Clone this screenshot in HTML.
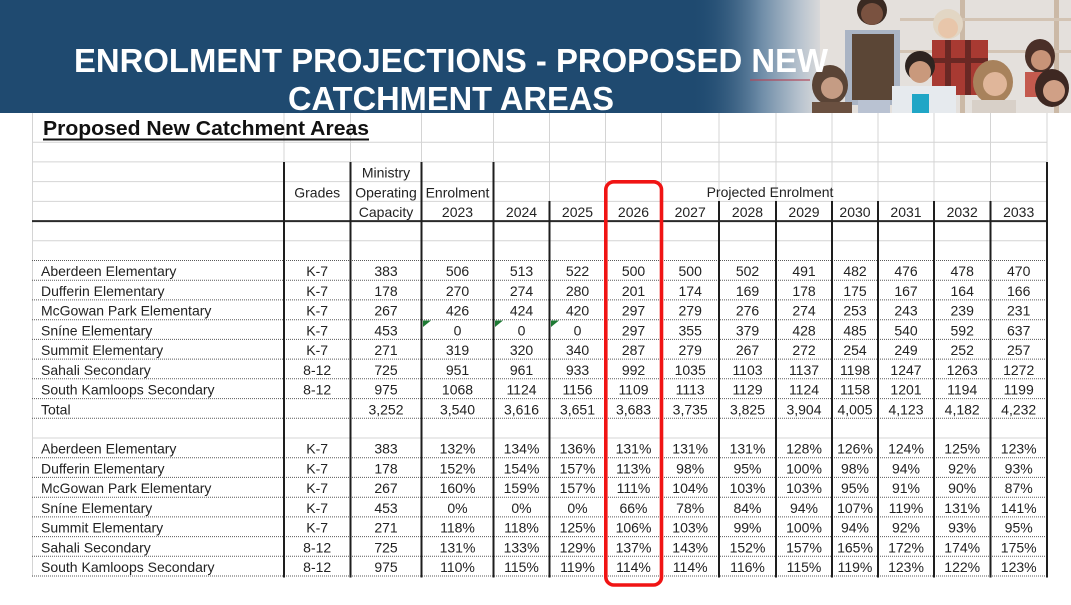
<!DOCTYPE html>
<html><head><meta charset="utf-8"><style>
html,body{margin:0;padding:0;background:#fff;}
svg{display:block;}
text{font-family:"Liberation Sans",Arial,sans-serif;}
</style></head><body>
<svg width="1071" height="605" viewBox="0 0 1071 605" xmlns="http://www.w3.org/2000/svg">
<defs>
<linearGradient id="fade" x1="0" y1="0" x2="1" y2="0">
<stop offset="0" stop-color="#1f4a70" stop-opacity="0"/>
<stop offset="0.55" stop-color="#6f8da8"/>
<stop offset="0.85" stop-color="#b9c4cf"/>
<stop offset="1" stop-color="#d9d9da"/>
</linearGradient>
</defs>
<rect x="0" y="0" width="1071" height="605" fill="#fff"/>
<!-- header band -->
<rect x="0" y="0" width="1071" height="113" fill="#1f4a70"/>
<!-- photo -->
<rect x="812" y="0" width="259" height="113" fill="#e4e0dc"/>
<rect x="690" y="0" width="130" height="113" fill="url(#fade)"/>
<rect x="750" y="79" width="60" height="2" fill="#b0485a" opacity="0.6"/>
<rect x="960" y="0" width="5" height="113" fill="#cbb9a6"/>
<rect x="1054" y="0" width="5" height="113" fill="#cbb9a6"/>
<rect x="900" y="18" width="171" height="3" fill="#d3c4b4"/>
<rect x="900" y="50" width="171" height="3" fill="#d3c4b4"/>
<!-- kid standing with vest -->
<rect x="845" y="30" width="55" height="75" fill="#aab4c4"/>
<rect x="852" y="34" width="42" height="66" fill="#5b4636"/>
<rect x="858" y="100" width="32" height="13" fill="#b9c2d2"/>
<circle cx="872" cy="10" r="15" fill="#3a2a22"/>
<circle cx="872" cy="14" r="11" fill="#7a5240"/>
<!-- girl bottom left -->
<ellipse cx="830" cy="85" rx="18" ry="20" fill="#5a4436"/>
<circle cx="832" cy="88" r="11" fill="#c59c84"/>
<rect x="812" y="102" width="40" height="11" fill="#6a5040"/>
<!-- blond kid plaid -->
<circle cx="948" cy="24" r="15" fill="#e2d6c4"/>
<circle cx="948" cy="28" r="10" fill="#e8c6aa"/>
<rect x="932" y="40" width="56" height="55" fill="#a83a32"/>
<rect x="945" y="40" width="6" height="55" fill="#6a2824"/>
<rect x="965" y="40" width="6" height="55" fill="#6a2824"/>
<rect x="932" y="58" width="56" height="5" fill="#6a2824"/>
<!-- boy center white shirt -->
<circle cx="920" cy="66" r="15" fill="#2e2420"/>
<circle cx="920" cy="72" r="11" fill="#c9997c"/>
<rect x="892" y="86" width="64" height="27" fill="#e6eaee"/>
<rect x="912" y="94" width="17" height="19" fill="#20a6c6"/>
<!-- curly girl -->
<ellipse cx="993" cy="82" rx="20" ry="22" fill="#a8825c"/>
<circle cx="995" cy="84" r="12" fill="#e0b69a"/>
<rect x="972" y="100" width="44" height="13" fill="#d8d0c8"/>
<!-- right girls -->
<ellipse cx="1040" cy="56" rx="15" ry="17" fill="#4a3028"/>
<circle cx="1041" cy="60" r="10" fill="#c89478"/>
<rect x="1025" y="72" width="35" height="25" fill="#c45a4e"/>
<ellipse cx="1052" cy="88" rx="17" ry="19" fill="#3e2822"/>
<circle cx="1054" cy="91" r="11" fill="#d0a086"/>
<!-- title -->
<text x="451" y="72" fill="#fff" font-size="33" font-weight="bold" text-anchor="middle" textLength="754" lengthAdjust="spacingAndGlyphs">ENROLMENT PROJECTIONS - PROPOSED NEW</text>
<text x="451" y="110" fill="#fff" font-size="33" font-weight="bold" text-anchor="middle" textLength="326" lengthAdjust="spacingAndGlyphs">CATCHMENT AREAS</text>

<!-- light gridlines -->
<g stroke="#d4d4d4" stroke-width="1">
<line x1="32" y1="142.2" x2="1047" y2="142.2"/>
<line x1="32" y1="161.9" x2="1047" y2="161.9"/>
<line x1="32" y1="181.6" x2="1047" y2="181.6"/>
<line x1="32" y1="201.4" x2="1047" y2="201.4"/>
<line x1="32" y1="240.8" x2="1047" y2="240.8"/>
<line x1="32" y1="438" x2="1047" y2="438"/>
<line x1="32.5" y1="113" x2="32.5" y2="577"/>
<line x1="284" y1="113" x2="284" y2="162"/>
<line x1="350.5" y1="113" x2="350.5" y2="162"/>
<line x1="421.5" y1="113" x2="421.5" y2="162"/>
<line x1="493.5" y1="113" x2="493.5" y2="162"/>
<line x1="549.5" y1="113" x2="549.5" y2="201"/>
<line x1="605.5" y1="113" x2="605.5" y2="201"/>
<line x1="661.5" y1="113" x2="661.5" y2="201"/>
<line x1="719" y1="113" x2="719" y2="201"/>
<line x1="776" y1="113" x2="776" y2="201"/>
<line x1="832" y1="113" x2="832" y2="201"/>
<line x1="878" y1="113" x2="878" y2="201"/>
<line x1="934" y1="113" x2="934" y2="201"/>
<line x1="990.5" y1="113" x2="990.5" y2="201"/>
<line x1="1047" y1="113" x2="1047" y2="162"/>
</g>
<!-- dotted row lines -->
<g stroke="#5a5a5a" stroke-width="1" stroke-dasharray="1 1">
<line x1="32" y1="260.5" x2="1047" y2="260.5"/>
<line x1="32" y1="280.2" x2="1047" y2="280.2"/>
<line x1="32" y1="299.9" x2="1047" y2="299.9"/>
<line x1="32" y1="319.7" x2="1047" y2="319.7"/>
<line x1="32" y1="339.4" x2="1047" y2="339.4"/>
<line x1="32" y1="359.1" x2="1047" y2="359.1"/>
<line x1="32" y1="378.8" x2="1047" y2="378.8"/>
<line x1="32" y1="398.6" x2="1047" y2="398.6"/>
<line x1="32" y1="418.3" x2="1047" y2="418.3"/>
<line x1="32" y1="457.7" x2="1047" y2="457.7"/>
<line x1="32" y1="477.4" x2="1047" y2="477.4"/>
<line x1="32" y1="497.2" x2="1047" y2="497.2"/>
<line x1="32" y1="516.9" x2="1047" y2="516.9"/>
<line x1="32" y1="536.6" x2="1047" y2="536.6"/>
<line x1="32" y1="556.3" x2="1047" y2="556.3"/>
<line x1="32" y1="576" x2="1047" y2="576"/>
</g>
<!-- black lines -->
<line x1="32" y1="221.1" x2="1048" y2="221.1" stroke="#2a2a2a" stroke-width="2"/>
<g stroke="#1e1e1e" stroke-width="2">
<line x1="284" y1="162" x2="284" y2="577.5"/>
<line x1="350.5" y1="162" x2="350.5" y2="577.5"/>
<line x1="421.5" y1="162" x2="421.5" y2="577.5"/>
<line x1="493.5" y1="162" x2="493.5" y2="577.5"/>
<line x1="549.5" y1="201" x2="549.5" y2="577.5"/>
<line x1="605.5" y1="201" x2="605.5" y2="577.5"/>
<line x1="661.5" y1="201" x2="661.5" y2="577.5"/>
<line x1="719" y1="201" x2="719" y2="577.5"/>
<line x1="776" y1="201" x2="776" y2="577.5"/>
<line x1="832" y1="201" x2="832" y2="577.5"/>
<line x1="878" y1="201" x2="878" y2="577.5"/>
<line x1="934" y1="201" x2="934" y2="577.5"/>
<line x1="990.5" y1="201" x2="990.5" y2="577.5"/>
<line x1="1047" y1="162" x2="1047" y2="577.5"/>
</g>
<!-- green error triangles -->
<g fill="#1d7a33">
<polygon points="423,320.5 431,320.5 423,327"/>
<polygon points="495,320.5 503,320.5 495,327"/>
<polygon points="551,320.5 559,320.5 551,327"/>
</g>

<!-- sheet title -->
<text x="43" y="135" font-size="20.5" font-weight="bold" fill="#111" textLength="326" lengthAdjust="spacingAndGlyphs">Proposed New Catchment Areas</text>
<rect x="43" y="138.5" width="326" height="2" fill="#111"/>

<g font-size="14" fill="#222" text-anchor="middle">
<text x="386" y="177.6">Ministry</text>
<text x="317.2" y="197.4">Grades</text>
<text x="386" y="197.4">Operating</text>
<text x="457.5" y="197.4">Enrolment</text>
<text x="770" y="196.8">Projected Enrolment</text>
<text y="217.1"><tspan x="386">Capacity</tspan><tspan x="457.5">2023</tspan><tspan x="521.5">2024</tspan><tspan x="577.5">2025</tspan><tspan x="633.5">2026</tspan><tspan x="690.2">2027</tspan><tspan x="747.5">2028</tspan><tspan x="804">2029</tspan><tspan x="855">2030</tspan><tspan x="906">2031</tspan><tspan x="962.2">2032</tspan><tspan x="1018.7">2033</tspan></text>
</g>

<!-- names -->
<g font-size="14" fill="#222">
<text x="41" y="276.2">Aberdeen Elementary</text>
<text x="41" y="295.9">Dufferin Elementary</text>
<text x="41" y="315.7">McGowan Park Elementary</text>
<text x="41" y="335.4">Sníne Elementary</text>
<text x="41" y="355.1">Summit Elementary</text>
<text x="41" y="374.8">Sahali Secondary</text>
<text x="41" y="394.6">South Kamloops Secondary</text>
<text x="41" y="414.3">Total</text>
<text x="41" y="453.7">Aberdeen Elementary</text>
<text x="41" y="473.4">Dufferin Elementary</text>
<text x="41" y="493.2">McGowan Park Elementary</text>
<text x="41" y="512.9">Sníne Elementary</text>
<text x="41" y="532.6">Summit Elementary</text>
<text x="41" y="552.3">Sahali Secondary</text>
<text x="41" y="572">South Kamloops Secondary</text>
</g>

<g font-size="14" fill="#222" text-anchor="middle">
<text y="276.2"><tspan x="317.2">K-7</tspan><tspan x="386">383</tspan><tspan x="457.5">506</tspan><tspan x="521.5">513</tspan><tspan x="577.5">522</tspan><tspan x="633.5">500</tspan><tspan x="690.2">500</tspan><tspan x="747.5">502</tspan><tspan x="804">491</tspan><tspan x="855">482</tspan><tspan x="906">476</tspan><tspan x="962.2">478</tspan><tspan x="1018.7">470</tspan></text>
<text y="295.9"><tspan x="317.2">K-7</tspan><tspan x="386">178</tspan><tspan x="457.5">270</tspan><tspan x="521.5">274</tspan><tspan x="577.5">280</tspan><tspan x="633.5">201</tspan><tspan x="690.2">174</tspan><tspan x="747.5">169</tspan><tspan x="804">178</tspan><tspan x="855">175</tspan><tspan x="906">167</tspan><tspan x="962.2">164</tspan><tspan x="1018.7">166</tspan></text>
<text y="315.7"><tspan x="317.2">K-7</tspan><tspan x="386">267</tspan><tspan x="457.5">426</tspan><tspan x="521.5">424</tspan><tspan x="577.5">420</tspan><tspan x="633.5">297</tspan><tspan x="690.2">279</tspan><tspan x="747.5">276</tspan><tspan x="804">274</tspan><tspan x="855">253</tspan><tspan x="906">243</tspan><tspan x="962.2">239</tspan><tspan x="1018.7">231</tspan></text>
<text y="335.4"><tspan x="317.2">K-7</tspan><tspan x="386">453</tspan><tspan x="457.5">0</tspan><tspan x="521.5">0</tspan><tspan x="577.5">0</tspan><tspan x="633.5">297</tspan><tspan x="690.2">355</tspan><tspan x="747.5">379</tspan><tspan x="804">428</tspan><tspan x="855">485</tspan><tspan x="906">540</tspan><tspan x="962.2">592</tspan><tspan x="1018.7">637</tspan></text>
<text y="355.1"><tspan x="317.2">K-7</tspan><tspan x="386">271</tspan><tspan x="457.5">319</tspan><tspan x="521.5">320</tspan><tspan x="577.5">340</tspan><tspan x="633.5">287</tspan><tspan x="690.2">279</tspan><tspan x="747.5">267</tspan><tspan x="804">272</tspan><tspan x="855">254</tspan><tspan x="906">249</tspan><tspan x="962.2">252</tspan><tspan x="1018.7">257</tspan></text>
<text y="374.8"><tspan x="317.2">8-12</tspan><tspan x="386">725</tspan><tspan x="457.5">951</tspan><tspan x="521.5">961</tspan><tspan x="577.5">933</tspan><tspan x="633.5">992</tspan><tspan x="690.2">1035</tspan><tspan x="747.5">1103</tspan><tspan x="804">1137</tspan><tspan x="855">1198</tspan><tspan x="906">1247</tspan><tspan x="962.2">1263</tspan><tspan x="1018.7">1272</tspan></text>
<text y="394.6"><tspan x="317.2">8-12</tspan><tspan x="386">975</tspan><tspan x="457.5">1068</tspan><tspan x="521.5">1124</tspan><tspan x="577.5">1156</tspan><tspan x="633.5">1109</tspan><tspan x="690.2">1113</tspan><tspan x="747.5">1129</tspan><tspan x="804">1124</tspan><tspan x="855">1158</tspan><tspan x="906">1201</tspan><tspan x="962.2">1194</tspan><tspan x="1018.7">1199</tspan></text>
<text y="414.3"><tspan x="386">3,252</tspan><tspan x="457.5">3,540</tspan><tspan x="521.5">3,616</tspan><tspan x="577.5">3,651</tspan><tspan x="633.5">3,683</tspan><tspan x="690.2">3,735</tspan><tspan x="747.5">3,825</tspan><tspan x="804">3,904</tspan><tspan x="855">4,005</tspan><tspan x="906">4,123</tspan><tspan x="962.2">4,182</tspan><tspan x="1018.7">4,232</tspan></text>

<text y="453.7"><tspan x="317.2">K-7</tspan><tspan x="386">383</tspan><tspan x="457.5">132%</tspan><tspan x="521.5">134%</tspan><tspan x="577.5">136%</tspan><tspan x="633.5">131%</tspan><tspan x="690.2">131%</tspan><tspan x="747.5">131%</tspan><tspan x="804">128%</tspan><tspan x="855">126%</tspan><tspan x="906">124%</tspan><tspan x="962.2">125%</tspan><tspan x="1018.7">123%</tspan></text>
<text y="473.4"><tspan x="317.2">K-7</tspan><tspan x="386">178</tspan><tspan x="457.5">152%</tspan><tspan x="521.5">154%</tspan><tspan x="577.5">157%</tspan><tspan x="633.5">113%</tspan><tspan x="690.2">98%</tspan><tspan x="747.5">95%</tspan><tspan x="804">100%</tspan><tspan x="855">98%</tspan><tspan x="906">94%</tspan><tspan x="962.2">92%</tspan><tspan x="1018.7">93%</tspan></text>
<text y="493.2"><tspan x="317.2">K-7</tspan><tspan x="386">267</tspan><tspan x="457.5">160%</tspan><tspan x="521.5">159%</tspan><tspan x="577.5">157%</tspan><tspan x="633.5">111%</tspan><tspan x="690.2">104%</tspan><tspan x="747.5">103%</tspan><tspan x="804">103%</tspan><tspan x="855">95%</tspan><tspan x="906">91%</tspan><tspan x="962.2">90%</tspan><tspan x="1018.7">87%</tspan></text>
<text y="512.9"><tspan x="317.2">K-7</tspan><tspan x="386">453</tspan><tspan x="457.5">0%</tspan><tspan x="521.5">0%</tspan><tspan x="577.5">0%</tspan><tspan x="633.5">66%</tspan><tspan x="690.2">78%</tspan><tspan x="747.5">84%</tspan><tspan x="804">94%</tspan><tspan x="855">107%</tspan><tspan x="906">119%</tspan><tspan x="962.2">131%</tspan><tspan x="1018.7">141%</tspan></text>
<text y="532.6"><tspan x="317.2">K-7</tspan><tspan x="386">271</tspan><tspan x="457.5">118%</tspan><tspan x="521.5">118%</tspan><tspan x="577.5">125%</tspan><tspan x="633.5">106%</tspan><tspan x="690.2">103%</tspan><tspan x="747.5">99%</tspan><tspan x="804">100%</tspan><tspan x="855">94%</tspan><tspan x="906">92%</tspan><tspan x="962.2">93%</tspan><tspan x="1018.7">95%</tspan></text>
<text y="552.3"><tspan x="317.2">8-12</tspan><tspan x="386">725</tspan><tspan x="457.5">131%</tspan><tspan x="521.5">133%</tspan><tspan x="577.5">129%</tspan><tspan x="633.5">137%</tspan><tspan x="690.2">143%</tspan><tspan x="747.5">152%</tspan><tspan x="804">157%</tspan><tspan x="855">165%</tspan><tspan x="906">172%</tspan><tspan x="962.2">174%</tspan><tspan x="1018.7">175%</tspan></text>
<text y="572"><tspan x="317.2">8-12</tspan><tspan x="386">975</tspan><tspan x="457.5">110%</tspan><tspan x="521.5">115%</tspan><tspan x="577.5">119%</tspan><tspan x="633.5">114%</tspan><tspan x="690.2">114%</tspan><tspan x="747.5">116%</tspan><tspan x="804">115%</tspan><tspan x="855">119%</tspan><tspan x="906">123%</tspan><tspan x="962.2">122%</tspan><tspan x="1018.7">123%</tspan></text>
</g>

<!-- red highlight box -->
<rect x="605.8" y="181.8" width="55.7" height="403.2" rx="8" ry="8" fill="none" stroke="#f01414" stroke-width="3.6"/>
</svg>
</body></html>
